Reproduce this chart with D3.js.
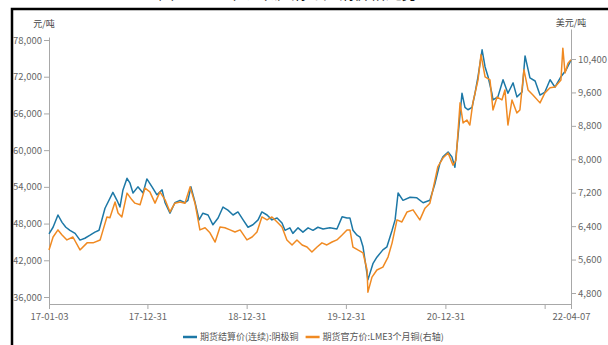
<!DOCTYPE html>
<html><head><meta charset="utf-8">
<script src="https://cdn.jsdelivr.net/npm/d3@7"></script>
<style>body{margin:0;background:#fff}svg{display:block}</style>
</head><body><svg id="c" width="608" height="345"></svg>
<script>
const shfeDates = ["2017-01-03","2017-01-18","2017-02-05","2017-02-20","2017-03-06","2017-03-21","2017-04-09","2017-04-27","2017-05-15","2017-06-03","2017-06-21","2017-07-06","2017-07-28","2017-08-26","2017-09-10","2017-09-21","2017-10-02","2017-10-17","2017-10-28","2017-11-08","2017-11-26","2017-12-15","2017-12-29","2018-01-17","2018-02-04","2018-02-23","2018-03-06","2018-03-24","2018-04-11","2018-04-30","2018-05-18","2018-05-29","2018-06-09","2018-06-24","2018-07-09","2018-07-23","2018-08-11","2018-08-29","2018-09-17","2018-10-05","2018-10-23","2018-11-11","2018-11-29","2018-12-18","2019-01-05","2019-01-23","2019-02-11","2019-02-25","2019-03-16","2019-04-03","2019-04-22","2019-05-10","2019-05-21","2019-06-08","2019-06-19","2019-07-08","2019-07-26","2019-08-14","2019-09-01","2019-09-19","2019-10-08","2019-11-02","2019-11-28","2019-12-17","2020-01-04","2020-01-15","2020-01-26","2020-02-10","2020-02-21","2020-03-03","2020-03-21","2020-04-09","2020-04-23","2020-05-15","2020-05-30","2020-06-18","2020-06-29","2020-07-10","2020-07-28","2020-08-23","2020-09-17","2020-10-10","2020-11-04","2020-11-23","2020-12-11","2020-12-22","2021-01-10","2021-01-24","2021-02-04","2021-02-15","2021-03-02","2021-03-13","2021-03-24","2021-04-08","2021-04-19","2021-04-30","2021-05-15","2021-05-26","2021-06-06","2021-06-20","2021-06-24","2021-07-12","2021-07-31","2021-08-18","2021-09-06","2021-09-20","2021-10-09","2021-10-20","2021-11-07","2021-11-26","2021-12-14","2022-01-01","2022-01-20","2022-02-07","2022-03-01","2022-03-20","2022-04-07"];
const shfeValues = [46300,47400,49400,48200,47400,46900,46400,45300,45600,46100,46600,46900,50500,53100,51800,50700,53500,55400,54600,53000,54000,53000,55300,54000,52700,53500,51400,49700,51400,51800,51400,51800,54000,51500,48600,49700,49400,47800,48900,50700,50200,49400,49900,48600,47400,47800,48600,49900,49400,48600,48900,48100,46900,47300,46400,47300,46600,47300,46900,47400,47100,47300,47100,49100,48900,48900,46900,46100,45800,44200,38800,41500,42500,43700,44200,46900,48600,53000,51800,52300,52200,51400,51800,54600,57900,58900,59700,58900,57200,62100,69300,67000,66600,67000,69300,72000,76400,73600,72000,69300,68200,68700,71500,69300,71000,68700,69500,75400,71800,71300,69000,69500,71500,70300,72000,73100,74700];

const lmeDates = ["2017-01-03","2017-01-18","2017-02-05","2017-02-20","2017-03-10","2017-04-01","2017-04-27","2017-05-23","2017-06-14","2017-07-10","2017-07-21","2017-08-04","2017-08-15","2017-09-03","2017-09-14","2017-09-28","2017-10-17","2017-11-04","2017-11-15","2017-12-04","2017-12-22","2018-01-09","2018-01-28","2018-02-15","2018-03-06","2018-03-24","2018-04-11","2018-04-30","2018-05-18","2018-06-06","2018-06-24","2018-07-12","2018-07-31","2018-08-18","2018-09-06","2018-09-24","2018-10-12","2018-10-31","2018-11-18","2018-12-07","2019-01-01","2019-01-20","2019-02-07","2019-02-25","2019-03-16","2019-04-03","2019-04-22","2019-05-10","2019-05-28","2019-06-16","2019-07-04","2019-07-23","2019-08-10","2019-08-28","2019-09-16","2019-10-04","2019-10-22","2019-11-10","2019-11-28","2019-12-17","2020-01-04","2020-01-15","2020-01-26","2020-02-13","2020-03-03","2020-03-18","2020-03-21","2020-04-05","2020-04-23","2020-05-15","2020-06-03","2020-06-18","2020-07-06","2020-07-24","2020-08-12","2020-09-03","2020-09-28","2020-10-17","2020-11-04","2020-11-15","2020-12-03","2020-12-22","2021-01-10","2021-01-28","2021-02-08","2021-02-23","2021-03-06","2021-03-20","2021-03-31","2021-04-11","2021-04-30","2021-05-11","2021-05-26","2021-06-13","2021-06-24","2021-07-09","2021-07-27","2021-08-07","2021-08-18","2021-09-02","2021-09-20","2021-10-01","2021-10-16","2021-10-31","2021-11-18","2021-12-14","2022-01-01","2022-01-20","2022-02-07","2022-03-01","2022-03-08","2022-03-16","2022-03-27","2022-04-07"];
const lmeValues = [5830,6140,6310,6190,6070,6140,5830,6000,6000,6070,6310,6620,6600,6980,6715,6620,7190,7030,6950,6910,7310,7220,6950,7220,7030,6740,6950,6980,6950,7340,6950,6310,6360,6240,6020,6380,6360,6310,6260,6310,6070,6140,6260,6620,6550,6620,6500,6380,6070,5950,6070,5950,5900,5780,5900,6000,5950,6020,6070,6190,6310,6310,5900,5830,5760,5350,4820,5180,5350,5420,5660,6000,6550,6500,6740,6790,6550,6830,6950,7270,7820,8030,8150,7860,7980,9350,8870,8940,8820,9350,9900,10500,9970,9900,9180,9490,9420,9660,8820,9420,9110,9180,10140,9660,9540,9350,9590,9710,9730,9900,10660,10065,10300,10380];

const leftTicks = [36000,42000,48000,54000,60000,66000,72000,78000];
const rightTicks = [4800,5600,6400,7200,8000,8800,9600,10400];
const xTickDates = ["2017-01-03","2017-12-31","2018-12-31","2019-12-31","2020-12-31","2021-12-31","2022-04-07"];
const xTickLabels = ["17-01-03","17-12-31","18-12-31","19-12-31","20-12-31","","22-04-07"];
const seriesNames = ["期货结算价(连续):阴极铜","期货官方价:LME3个月铜(右轴)"];
const unitLeft = "元/吨", unitRight = "美元/吨";
const titleText = "图：2017年以来沪铜与伦铜价格走势";

const colors = ["#1d78a6","#f08a22"];
const parse = d3.timeParse("%Y-%m-%d");
const svg = d3.select("#c");
const font = "'Microsoft YaHei','Noto Sans CJK SC','Noto Sans',sans-serif";

const L = 49, R = 571, B = 304;
const x = d3.scaleTime().domain([parse(xTickDates[0]), parse(xTickDates[xTickDates.length-1])]).range([L, R]);
const yL0 = d3.scaleLinear().domain([36000,78000]).range([297,40]);
const yL = d3.scaleLinear().domain([yL0.invert(B), yL0.invert(37)]).range([B,37]);
const yR0 = d3.scaleLinear().domain([4800,10400]).range([293,59]);
const yR = d3.scaleLinear().domain([yR0.invert(B), yR0.invert(29)]).range([B,29]);

// frame & (cropped) title
svg.append("text").attr("x",288).attr("y",-1.5).attr("text-anchor","middle")
  .attr("font-family",font).attr("font-size",16).attr("fill","#111").text(titleText);
svg.append("rect").attr("x",12).attr("y",9).attr("width",620).attr("height",360)
  .attr("fill","#fff").attr("stroke","#000").attr("stroke-width",2.5);

const fmt = d3.format(",");
const axisStyle = g => {
  g.selectAll("path,line").attr("stroke","#a8a8a8");
  g.selectAll("text").attr("fill","#666").attr("font-family",font).attr("font-size",9.5);
};
svg.append("g").attr("transform",`translate(${L},0)`)
  .call(d3.axisLeft(yL).tickValues(leftTicks).tickFormat(fmt).tickSize(5).tickPadding(2).tickSizeOuter(0))
  .call(axisStyle);
svg.append("g").attr("transform",`translate(${R},0)`)
  .call(d3.axisRight(yR).tickValues(rightTicks).tickFormat(fmt).tickSize(5).tickPadding(2).tickSizeOuter(0))
  .call(axisStyle);
svg.append("g").attr("transform",`translate(0,${B})`)
  .call(d3.axisBottom(x).tickValues(xTickDates.map(parse)).tickFormat((d,i)=>xTickLabels[i]).tickSize(5).tickPadding(4).tickSizeOuter(0))
  .call(axisStyle);

svg.append("text").attr("x",44).attr("y",27).attr("text-anchor","middle")
  .attr("font-family",font).attr("font-size",9).attr("fill","#444").text(unitLeft);
svg.append("text").attr("x",571).attr("y",26).attr("text-anchor","middle")
  .attr("font-family",font).attr("font-size",9).attr("fill","#444").text(unitRight);

const shfe = shfeDates.map((d,i)=>({date:parse(d), v:shfeValues[i]}));
const lme = lmeDates.map((d,i)=>({date:parse(d), v:lmeValues[i]}));
svg.append("path").datum(shfe).attr("fill","none").attr("stroke",colors[0]).attr("stroke-width",1.5)
  .attr("stroke-linejoin","round")
  .attr("d", d3.line().x(d=>x(d.date)).y(d=>yL(d.v)));
svg.append("path").datum(lme).attr("fill","none").attr("stroke",colors[1]).attr("stroke-width",1.5)
  .attr("stroke-linejoin","round")
  .attr("d", d3.line().x(d=>x(d.date)).y(d=>yR(d.v)));

// legend
const lg = svg.append("g").attr("transform","translate(183,337)");
let cx = 0;
seriesNames.forEach((n,i)=>{
  const g = lg.append("g").attr("transform",`translate(${cx},0)`);
  g.append("line").attr("x1",0).attr("x2",14).attr("y1",0).attr("y2",0).attr("stroke",colors[i]).attr("stroke-width",2.5);
  const t = g.append("text").attr("x",17).attr("y",3).attr("font-family",font).attr("font-size",9).attr("fill","#555").text(n);
  cx += 17 + t.node().getComputedTextLength() + 7;
});
</script></body></html>
